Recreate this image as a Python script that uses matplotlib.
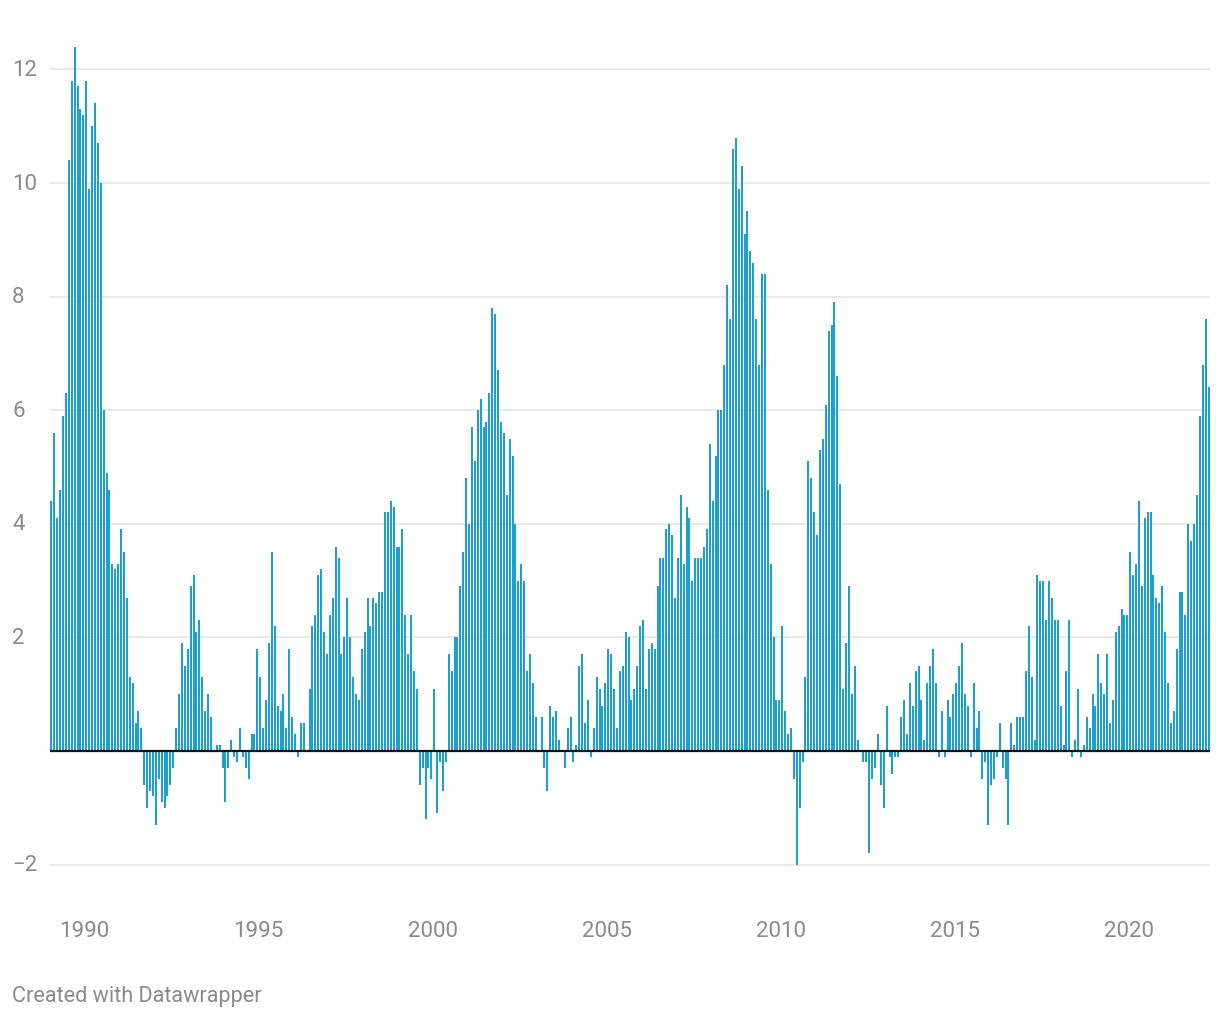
import numpy as np
import matplotlib
matplotlib.use("Agg")
import matplotlib.pyplot as plt
import matplotlib.transforms as mtransforms

# monthly values, Jan 1989 - Apr 2022
y1989 = [4.4, 5.6, 4.1, 4.6, 5.9, 6.3, 10.4, 11.8, 12.4, 11.7, 11.3, 11.2]
y1990 = [11.8, 9.9, 11.0, 11.4, 10.7, 10.0, 6.0, 4.9, 4.6, 3.3, 3.2, 3.3]
y1991 = [3.9, 3.5, 2.7, 1.3, 1.2, 0.5, 0.7, 0.4, -0.6, -1.0, -0.7, -0.8]
y1992 = [-1.3, -0.5, -0.9, -1.0, -0.8, -0.6, -0.3, 0.4, 1.0, 1.9, 1.5, 1.8]
y1993 = [2.9, 3.1, 2.1, 2.3, 1.3, 0.7, 1.0, 0.6, 0.0, 0.1, 0.1, -0.3]
y1994 = [-0.9, -0.3, 0.2, -0.1, -0.2, 0.4, -0.1, -0.3, -0.5, 0.3, 0.3, 1.8]
y1995 = [1.3, 0.4, 0.9, 1.9, 3.5, 2.2, 0.8, 0.7, 1.0, 0.4, 1.8, 0.6]
y1996 = [0.3, -0.1, 0.5, 0.5, 0.0, 1.1, 2.2, 2.4, 3.1, 3.2, 2.1, 1.7]
y1997 = [2.4, 2.7, 3.6, 3.4, 1.7, 2.0, 2.7, 2.0, 1.3, 1.0, 0.9, 1.8]
y1998 = [2.1, 2.7, 2.2, 2.7, 2.6, 2.8, 2.8, 4.2, 4.2, 4.4, 4.3, 3.6]
y1999 = [3.6, 3.9, 2.4, 1.7, 2.4, 1.4, 1.1, -0.6, -0.3, -1.2, -0.3, -0.5]
y2000 = [1.1, -1.1, -0.2, -0.7, -0.2, 1.7, 1.4, 2.0, 2.0, 2.9, 3.5, 4.8]
y2001 = [4.0, 5.7, 5.1, 6.0, 6.2, 5.7, 5.8, 6.3, 7.8, 7.7, 6.7, 5.8]
y2002 = [5.6, 4.5, 5.5, 5.2, 4.0, 3.0, 3.3, 3.0, 1.4, 1.7, 1.2, 0.6]
y2003 = [0.0, 0.6, -0.3, -0.7, 0.8, 0.6, 0.7, 0.2, 0.0, -0.3, 0.4, 0.6]
y2004 = [-0.2, 0.1, 1.5, 1.7, 0.5, 0.9, -0.1, 0.4, 1.3, 1.1, 0.8, 1.2]
y2005 = [1.8, 1.7, 1.1, 0.4, 1.4, 1.5, 2.1, 2.0, 0.9, 1.1, 1.5, 2.2]
y2006 = [2.3, 1.1, 1.8, 1.9, 1.8, 2.9, 3.4, 3.4, 3.9, 4.0, 3.8, 2.7]
y2007 = [3.4, 4.5, 3.3, 4.3, 4.1, 3.0, 3.4, 3.4, 3.4, 3.6, 3.9, 5.4]
y2008 = [4.4, 5.2, 6.0, 6.0, 6.8, 8.2, 7.6, 10.6, 10.8, 9.9, 10.3, 9.1]
y2009 = [9.5, 8.8, 8.6, 7.6, 6.8, 8.4, 8.4, 4.6, 3.3, 2.0, 0.9, 0.9]
y2010 = [2.2, 0.7, 0.3, 0.4, -0.5, -2.0, -1.0, -0.2, 1.3, 5.1, 4.8, 4.2]
y2011 = [3.8, 5.3, 5.5, 6.1, 7.4, 7.5, 7.9, 6.6, 4.7, 1.1, 1.9, 2.9]
y2012 = [1.0, 1.5, 0.2, 0.0, -0.2, -0.2, -1.8, -0.5, -0.3, 0.3, -0.6, -1.0]
y2013 = [0.8, -0.1, -0.4, -0.1, -0.1, 0.6, 0.9, 0.3, 1.2, 0.8, 1.4, 1.5]
y2014 = [0.9, 0.2, 1.2, 1.5, 1.8, 1.2, -0.1, 0.7, -0.1, 0.9, 0.6, 1.0]
y2015 = [1.2, 1.5, 1.9, 1.0, 0.8, -0.1, 1.2, 0.4, 0.7, -0.5, -0.2, -1.3]
y2016 = [-0.6, -0.5, -0.1, 0.5, -0.3, -0.5, -1.3, 0.5, 0.1, 0.6, 0.6, 0.6]
y2017 = [1.4, 2.2, 1.3, 0.2, 3.1, 3.0, 3.0, 2.3, 3.0, 2.7, 2.3, 2.3]
y2018 = [0.8, 0.1, 1.4, 2.3, -0.1, 0.2, 1.1, -0.1, 0.1, 0.6, 0.4, 1.0]
y2019 = [0.8, 1.7, 1.2, 1.0, 1.7, 0.5, 0.9, 2.1, 2.2, 2.5, 2.4, 2.4]
y2020 = [3.5, 3.1, 3.3, 4.4, 2.9, 4.1, 4.2, 4.2, 3.1, 2.7, 2.6, 2.9]
y2021 = [2.1, 1.2, 0.5, 0.7, 1.8, 2.8, 2.8, 2.4, 4.0, 3.7, 4.0, 4.5]
y2022 = [5.9, 6.8, 7.6, 6.4]

years = [y1989, y1990, y1991, y1992, y1993, y1994, y1995, y1996, y1997,
         y1998, y1999, y2000, y2001, y2002, y2003, y2004, y2005, y2006,
         y2007, y2008, y2009, y2010, y2011, y2012, y2013, y2014, y2015,
         y2016, y2017, y2018, y2019, y2020, y2021, y2022]
values = np.concatenate([np.array(y, dtype=float) for y in years])

start_year = 1989
year_ticks = [1990, 1995, 2000, 2005, 2010, 2015, 2020]
y_ticks = [-2, 2, 4, 6, 8, 10, 12]
y_tick_labels = ["\u22122", "2", "4", "6", "8", "10", "12"]

BAR = "#1ba1cd"
GREY = "#8a8a8a"
FONT = ["Roboto", "DejaVu Sans"]

plt.rcParams["font.family"] = FONT

W, H = 1220, 1020
fig = plt.figure(figsize=(W / 100, H / 100), dpi=100)
fig.patch.set_facecolor("white")

# axes placed in pixel terms: x 50..1210, zero at y=752, 56.8 px per unit
ymin, ymax = -2.2, 12.6
px_unit = 56.8
top_px = 752 - ymax * px_unit
bot_px = 752 - ymin * px_unit
ax = fig.add_axes([50 / W, 1 - bot_px / H, 1160 / W, (bot_px - top_px) / H])

x = np.arange(len(values)) + 0.5
ax.bar(x, values, width=0.72, color=BAR, linewidth=0, zorder=2)

ax.set_xlim(0, len(values))
ax.set_ylim(ymin, ymax)

for v in y_ticks:
    ax.axhline(v, color="#e3e3e3", linewidth=1.1, zorder=1)
ax.axhline(0, color="#111111", linewidth=1.6, zorder=3)

for s in ax.spines.values():
    s.set_visible(False)
ax.set_yticks([])
ax.set_xticks([(yr - start_year) * 12 for yr in year_ticks])
ax.set_xticklabels([str(yr) for yr in year_ticks], fontsize=16, color=GREY)
ax.tick_params(axis="x", length=0, pad=31.5)

# y labels left aligned at the figure edge
trans = mtransforms.blended_transform_factory(fig.transFigure, ax.transData)
for v, lab in zip(y_ticks, y_tick_labels):
    ax.text(12 / W, v, lab, transform=trans, ha="left", va="center",
            fontsize=16, color=GREY)

fig.text(12 / W, 1 - 997 / H, "Created with Datawrapper", ha="left",
         va="center", fontsize=15.6, color=GREY)

fig.savefig("out.png", dpi=100, facecolor="white")
